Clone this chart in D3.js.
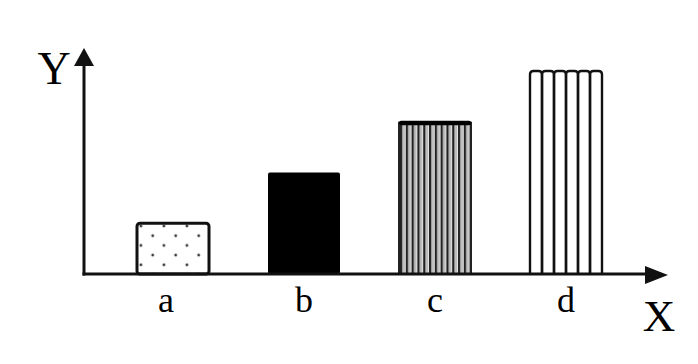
<!DOCTYPE html>
<html><head><meta charset="utf-8">
<script src="https://cdn.jsdelivr.net/npm/d3@7"></script>
<style>html,body{margin:0;padding:0;background:#fff;}svg{display:block;}</style>
</head><body>
<svg id="chart" width="698" height="364"></svg>
<script>
const categories = ["a", "b", "c", "d"];
const values = [1, 2, 3, 4];
const fills = ["dots", "solid", "dense", "tubes"];
const xTitle = "X";
const yTitle = "Y";

const svg = d3.select("#chart");
const x = d3.scalePoint().domain(categories).range([173, 566]);
const y = d3.scaleLinear().domain([0, 4]).range([274, 71]);
const bw = 72;
const ink = "#111";

const defs = svg.append("defs");
// dotted pattern for "a"
const pa = defs.append("pattern").attr("id", "pDots").attr("patternUnits", "userSpaceOnUse")
  .attr("x", x("a") - bw / 2 + 15.7).attr("y", y(1) + 12.5).attr("width", 23).attr("height", 19.4);
[[0,0],[23,0],[0,19.4],[23,19.4],[11.2,9.7]].forEach(([cx, cy]) =>
  pa.append("circle").attr("cx", cx).attr("cy", cy).attr("r", 1.4).attr("fill", "#333"));
// dense stripes for "c"
const pc = defs.append("pattern").attr("id", "pDense").attr("patternUnits", "userSpaceOnUse")
  .attr("x", x("c") - bw / 2 + 1).attr("y", 0).attr("width", 5.8).attr("height", 10);
pc.append("rect").attr("width", 5.8).attr("height", 10).attr("fill", "#e4e4e4");
pc.append("rect").attr("x", 0).attr("width", 2.3).attr("height", 10).attr("fill", "#222");
pc.append("rect").attr("x", 3.4).attr("width", 1).attr("height", 10).attr("fill", "#9a9a9a");

const g = svg.append("g");
categories.forEach((c, i) => {
  const x0 = x(c) - bw / 2, top = y(values[i]), h = y(0) - top;
  if (fills[i] === "dots") {
    g.append("rect").attr("x", x0).attr("y", top).attr("width", bw).attr("height", h)
      .attr("rx", 3).attr("fill", "url(#pDots)").attr("stroke", ink).attr("stroke-width", 3);
  } else if (fills[i] === "solid") {
    g.append("rect").attr("x", x0).attr("y", top).attr("width", bw).attr("height", h)
      .attr("rx", 2).attr("fill", "#000");
  } else if (fills[i] === "dense") {
    g.append("rect").attr("x", x0).attr("y", top).attr("width", bw).attr("height", h)
      .attr("fill", "url(#pDense)");
    g.append("line").attr("x1", x0).attr("x2", x0).attr("y1", top).attr("y2", y(0)).attr("stroke", "#222").attr("stroke-width", 2);
    g.append("line").attr("x1", x0 + bw).attr("x2", x0 + bw).attr("y1", top).attr("y2", y(0)).attr("stroke", "#222").attr("stroke-width", 2);
    g.append("rect").attr("x", x0).attr("y", top - 1).attr("width", bw).attr("height", 4.5)
      .attr("rx", 2).attr("fill", "#000");
  } else {
    const n = 6, tw = bw / n, r = 3.5;
    for (let k = 0; k < n; k++) {
      const l = x0 + k * tw, rr = l + tw;
      g.append("path")
        .attr("d", `M${l},${y(0)}V${top + r}Q${l},${top} ${l + r},${top}H${rr - r}Q${rr},${top} ${rr},${top + r}V${y(0)}`)
        .attr("fill", "none").attr("stroke", ink).attr("stroke-width", 2.4);
    }
  }
});

// axes
const ax = svg.append("g");
ax.append("line").attr("x1", 84).attr("x2", 84).attr("y1", y(0) + 1.5).attr("y2", 62)
  .attr("stroke", ink).attr("stroke-width", 3);
ax.append("path").attr("d", "M84,48 L74,66 L94,66 Z").attr("fill", ink);
ax.append("line").attr("x1", 82.5).attr("x2", 650).attr("y1", y(0)).attr("y2", y(0))
  .attr("stroke", ink).attr("stroke-width", 3);
ax.append("path").attr("d", `M668,${y(0) + 1} L645,${y(0) - 8} L645,${y(0) + 10} Z`).attr("fill", ink);

// category labels
svg.append("g").selectAll("text").data(categories).join("text")
  .attr("x", d => x(d) + (d === "a" ? -7 : 0)).attr("y", 312)
  .attr("text-anchor", "middle").attr("font-family", "Liberation Serif, Times New Roman, serif")
  .attr("font-size", 36).attr("fill", "#000").text(d => d);

svg.append("text").attr("x", 54).attr("y", 84).attr("text-anchor", "middle")
  .attr("font-family", "Liberation Serif, Times New Roman, serif").attr("font-size", 46).text(yTitle);
svg.append("text").attr("x", 659).attr("y", 331).attr("text-anchor", "middle")
  .attr("font-family", "Liberation Serif, Times New Roman, serif").attr("font-size", 45).text(xTitle);
</script>
</body></html>
